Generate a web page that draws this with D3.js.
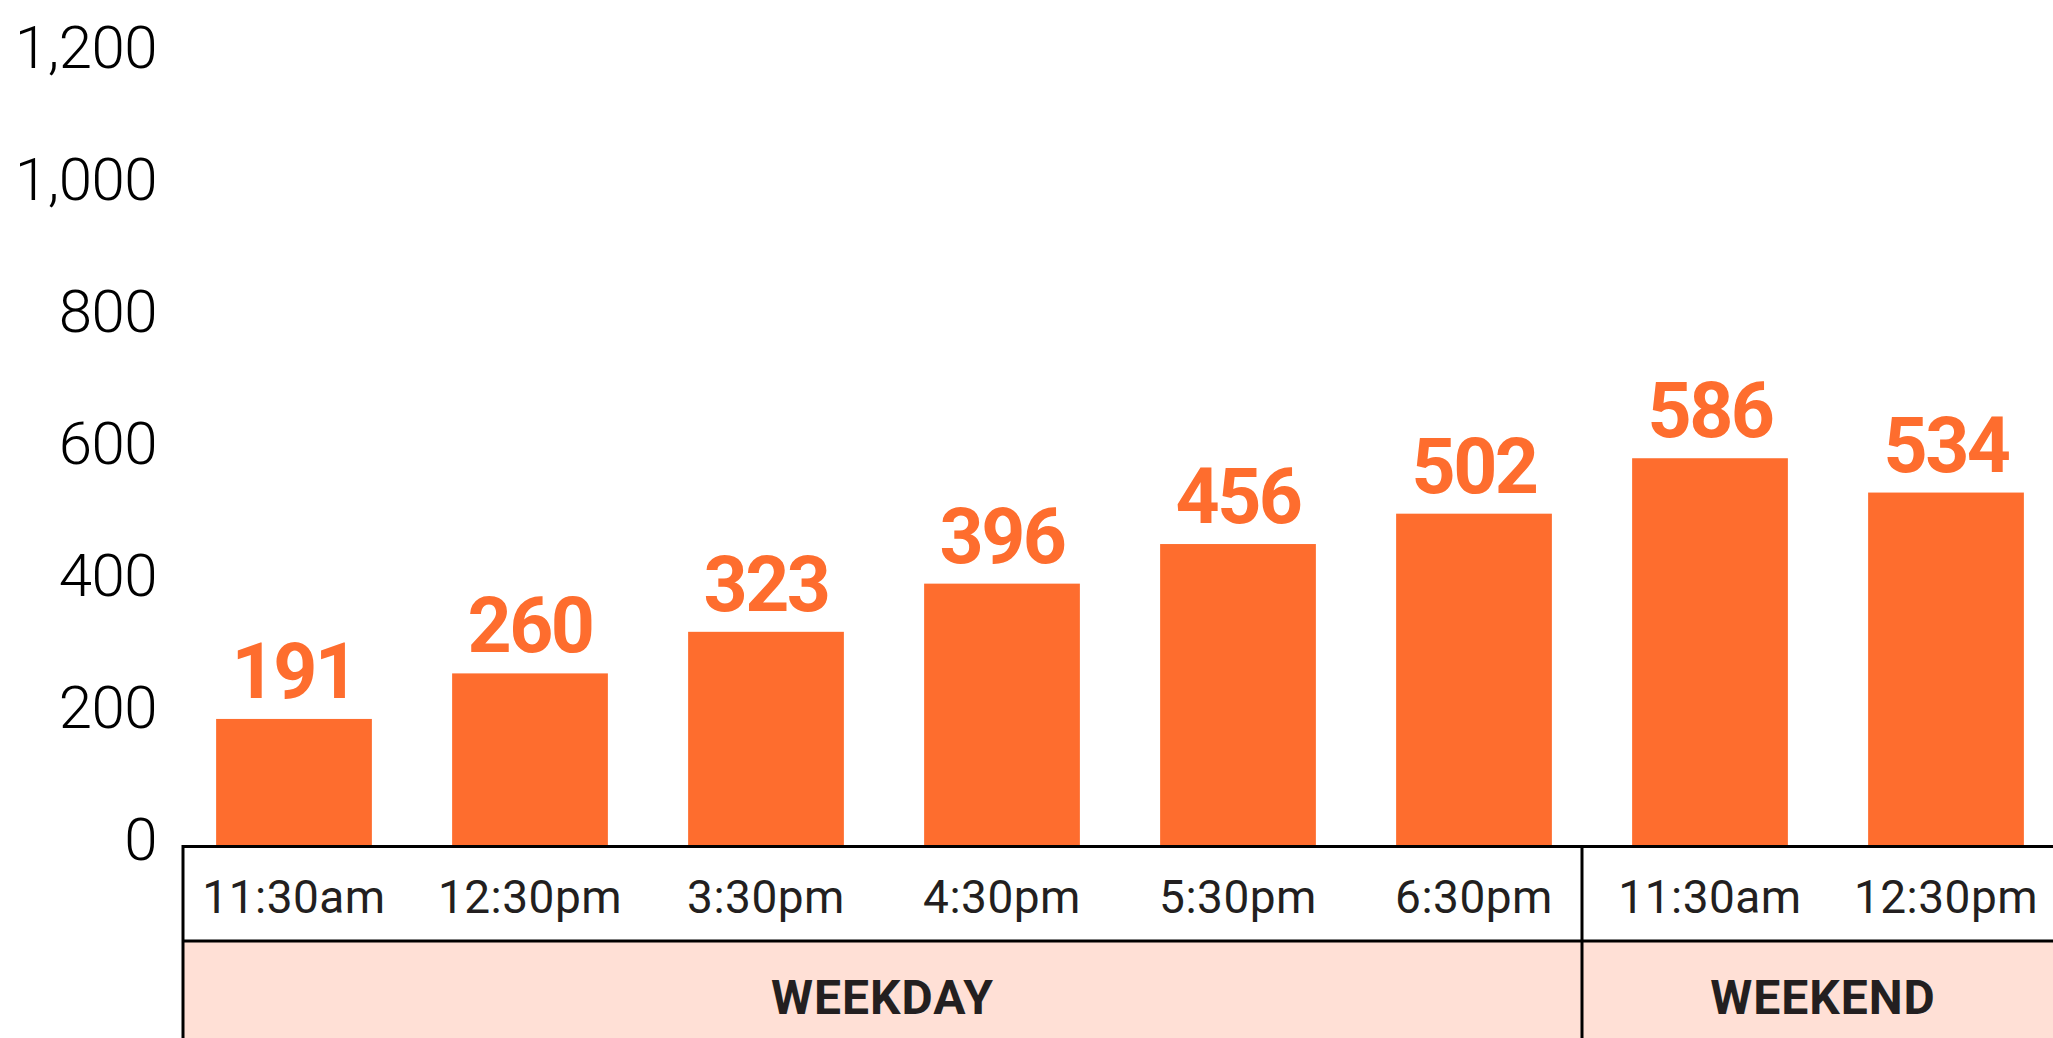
<!DOCTYPE html>
<html>
<head>
<meta charset="utf-8"/>
<style>
  body { margin: 0; background: #fff; }
  text { font-family: "Roboto", "DejaVu Sans", sans-serif; }
</style>
</head>
<body>
<div id="chart"></div>
<script src="https://cdn.jsdelivr.net/npm/d3@7"></script>
<script>

// data
var times  = ["11:30am", "12:30pm", "3:30pm", "4:30pm", "5:30pm", "6:30pm", "11:30am", "12:30pm"];
var groups = ["WEEKDAY", "WEEKDAY", "WEEKDAY", "WEEKDAY", "WEEKDAY", "WEEKDAY", "WEEKEND", "WEEKEND"];
var values = [191, 260, 323, 396, 456, 502, 586, 534];
var yTicks = [0, 200, 400, 600, 800, 1000, 1200];

var W = 2053, H = 1038;
var orange = "#fe6d2e", pink = "#ffe0d6", ink = "#231f20";

var svg = d3.select("#chart").append("svg")
    .attr("width", W)
    .attr("height", H);

var idx = d3.range(values.length);

var x = d3.scaleBand()
    .domain(idx)
    .range([176, 2064])
    .paddingInner(0.34)
    .paddingOuter(0.17);

var y = d3.scaleLinear()
    .domain([0, 1200])
    .range([845, 53]);

// y axis labels only
var yAxis = svg.append("g")
    .attr("transform", "translate(157,-5)")
    .call(d3.axisLeft(y)
        .tickValues(yTicks)
        .tickSize(0)
        .tickPadding(0)
        .tickFormat(d3.format(",")));
yAxis.select(".domain").remove();
yAxis.selectAll("text")
    .attr("font-family", "Roboto")
    .attr("font-weight", 300)
    .attr("font-size", 60)
    .attr("letter-spacing", -0.5)
    .attr("fill", "#000");

// bars
svg.selectAll(".bar")
    .data(idx)
  .enter().append("rect")
    .attr("class", "bar")
    .attr("x", function(i) { return x(i); })
    .attr("y", function(i) { return y(values[i]); })
    .attr("width", x.bandwidth())
    .attr("height", function(i) { return y(0) - y(values[i]); })
    .attr("fill", orange);

// value labels
svg.selectAll(".val")
    .data(idx)
  .enter().append("text")
    .attr("class", "val")
    .attr("x", function(i) { return x(i) + x.bandwidth() / 2; })
    .attr("y", function(i) { return y(values[i]) - 21; })
    .attr("text-anchor", "middle")
    .attr("font-weight", 700)
    .attr("font-size", 77)
    .attr("letter-spacing", -2.5)
    .attr("fill", orange)
    .text(function(i) { return values[i]; });

// table under the axis
var rowTop = y(0), rowMid = 941, rowBot = H + 5;
var tableLeft = 183;

// group spans
var groupNames = Array.from(new Set(groups));
var spans = groupNames.map(function(g, k) {
  var members = idx.filter(function(i) { return groups[i] === g; });
  var first = members[0], last = members[members.length - 1];
  var left = k === 0 ? tableLeft : x(first) - x.step() * x.paddingInner() / 2 - 10;
  var right = k === groupNames.length - 1 ? W + 20
      : x(last) + x.bandwidth() + x.step() * x.paddingInner() / 2 - 10;
  return {name: g, left: left, right: right, mid: (left + (k === groupNames.length - 1 ? x.range()[1] : right)) / 2};
});

svg.selectAll(".gfill")
    .data(spans)
  .enter().append("rect")
    .attr("x", function(d) { return d.left; })
    .attr("y", rowMid)
    .attr("width", function(d) { return d.right - d.left; })
    .attr("height", rowBot - rowMid)
    .attr("fill", pink);

// time labels
svg.selectAll(".time")
    .data(idx)
  .enter().append("text")
    .attr("class", "time")
    .attr("x", function(i) { return x(i) + x.bandwidth() / 2; })
    .attr("y", 913)
    .attr("text-anchor", "middle")
    .attr("font-size", 46)
    .attr("letter-spacing", 0.5)
    .attr("fill", ink)
    .text(function(i) { return times[i]; });

// group labels
svg.selectAll(".glabel")
    .data(spans)
  .enter().append("text")
    .attr("class", "glabel")
    .attr("x", function(d) { return d.mid; })
    .attr("y", 1014)
    .attr("text-anchor", "middle")
    .attr("font-weight", 700)
    .attr("font-size", 48)
    .attr("letter-spacing", 1)
    .attr("fill", ink)
    .text(function(d) { return d.name; });

// grid lines of the table
var lines = svg.append("g")
    .attr("stroke", "#000")
    .attr("stroke-width", 3);
lines.append("line").attr("x1", tableLeft).attr("x2", W).attr("y1", rowTop + 1.5).attr("y2", rowTop + 1.5);
lines.append("line").attr("x1", tableLeft).attr("x2", W).attr("y1", rowMid).attr("y2", rowMid);
lines.selectAll(".vline")
    .data(spans)
  .enter().append("line")
    .attr("x1", function(d) { return d.left; })
    .attr("x2", function(d) { return d.left; })
    .attr("y1", rowTop)
    .attr("y2", H);

</script>
</body>
</html>
